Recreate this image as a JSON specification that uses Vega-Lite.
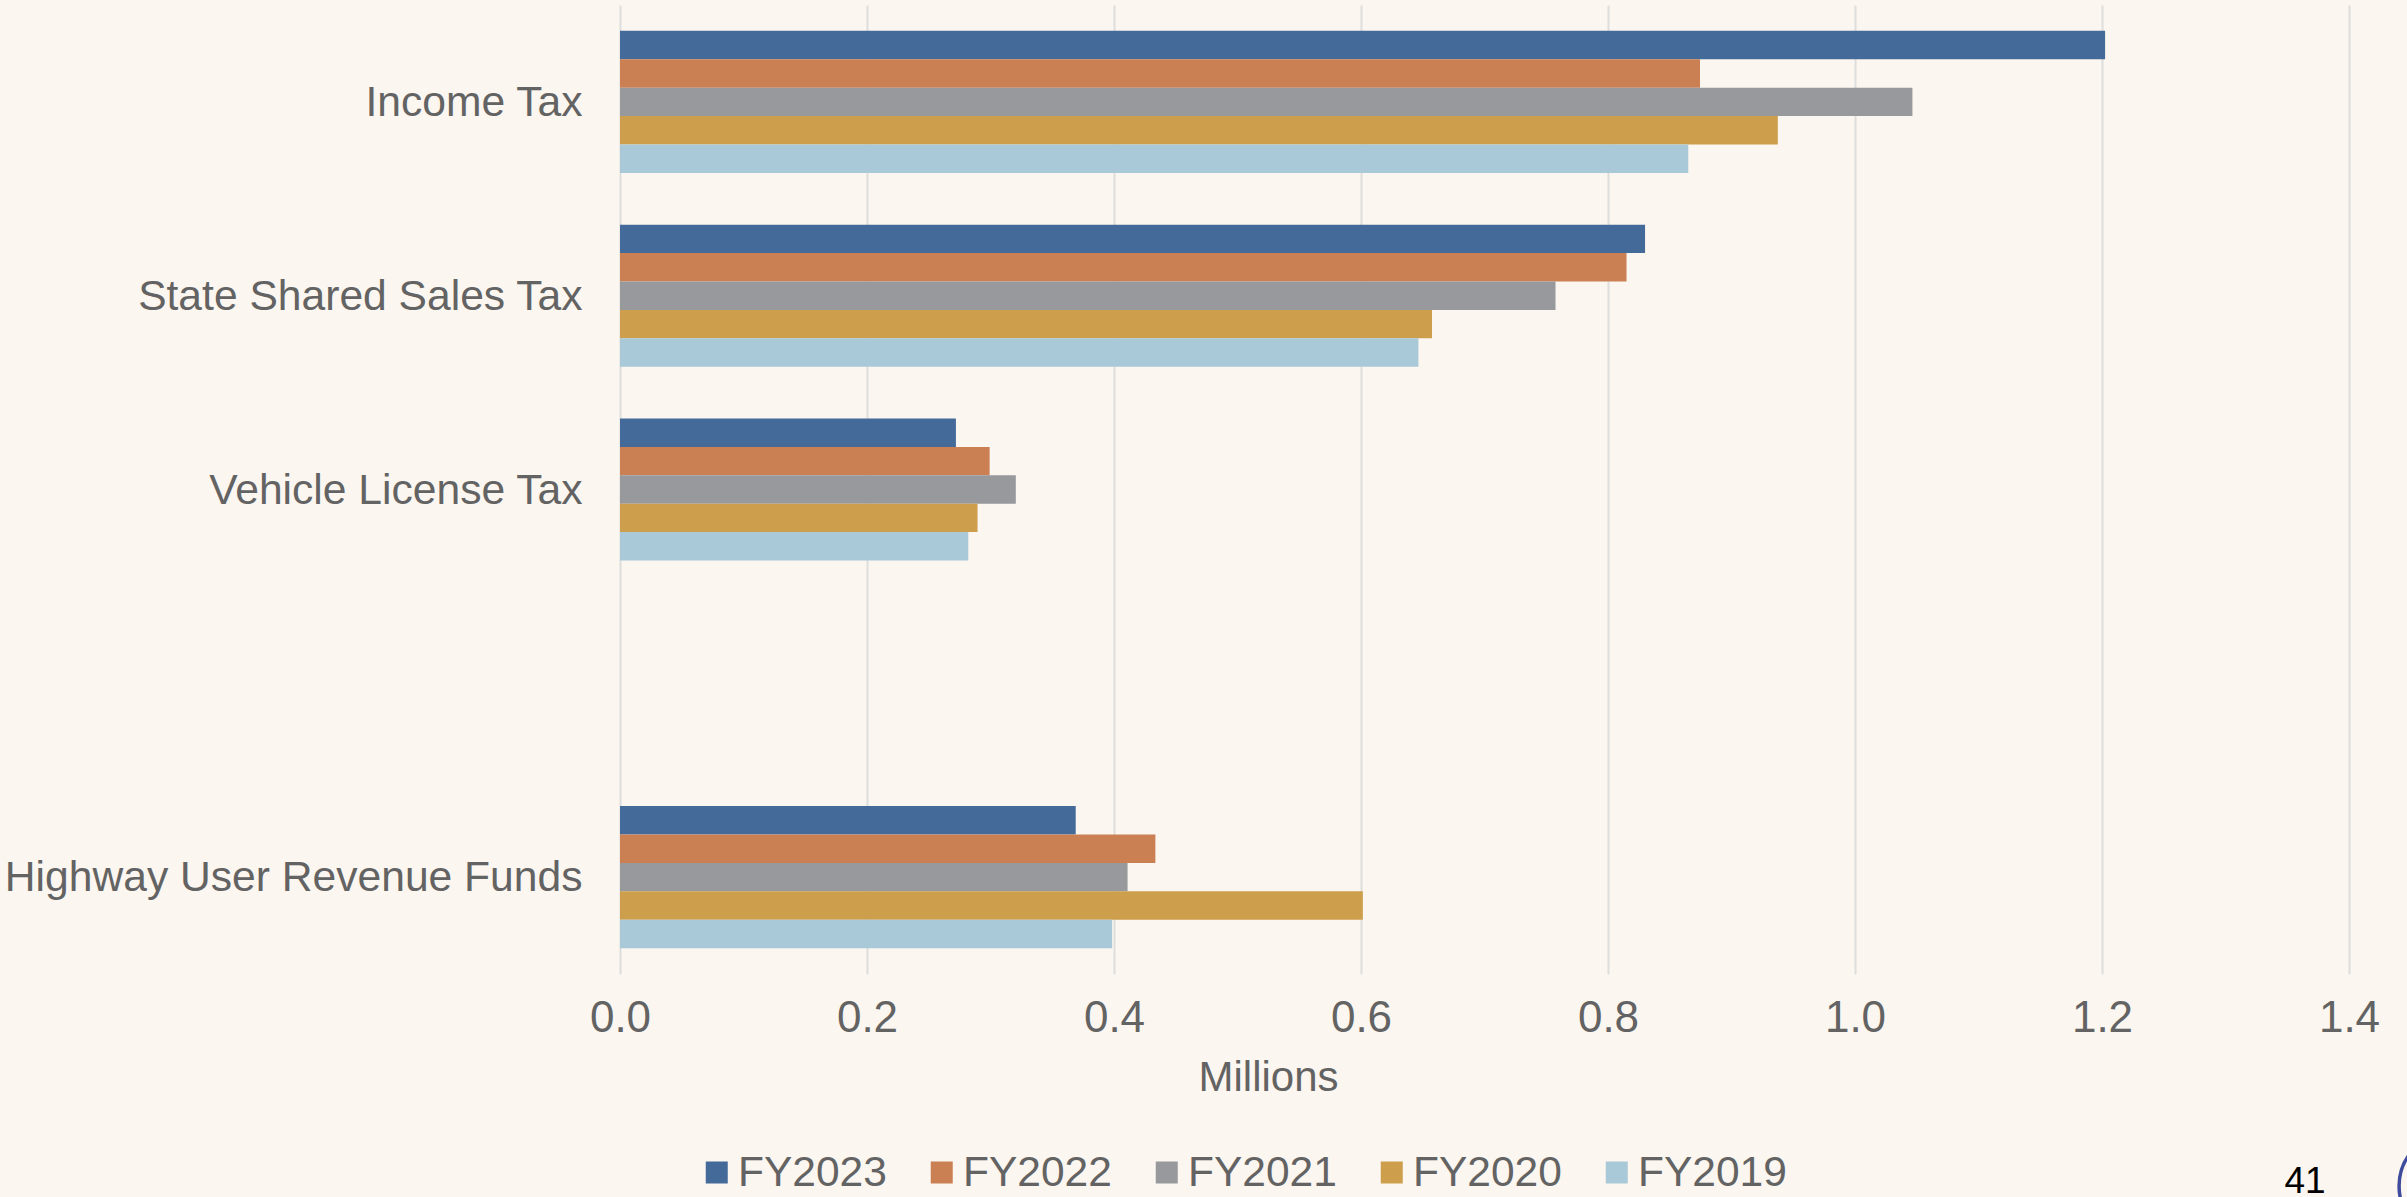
{
  "$schema": "https://vega.github.io/schema/vega-lite/v6.json",
  "width": 1729,
  "height": 969,
  "autosize": {"type": "none"},
  "padding": {"left": 620, "top": 5, "right": 58, "bottom": 223},
  "background": "#FBF6F0",
  "layer": [
    {
      "data": {
        "values": [
          {"source": "Income Tax", "year": "FY2023", "amount": 1.2025},
          {"source": "Income Tax", "year": "FY2022", "amount": 0.8745},
          {"source": "Income Tax", "year": "FY2021", "amount": 1.0465},
          {"source": "Income Tax", "year": "FY2020", "amount": 0.9375},
          {"source": "Income Tax", "year": "FY2019", "amount": 0.865},
          {"source": "State Shared Sales Tax", "year": "FY2023", "amount": 0.83},
          {"source": "State Shared Sales Tax", "year": "FY2022", "amount": 0.815},
          {"source": "State Shared Sales Tax", "year": "FY2021", "amount": 0.7575},
          {"source": "State Shared Sales Tax", "year": "FY2020", "amount": 0.6575},
          {"source": "State Shared Sales Tax", "year": "FY2019", "amount": 0.6465},
          {"source": "Vehicle License Tax", "year": "FY2023", "amount": 0.272},
          {"source": "Vehicle License Tax", "year": "FY2022", "amount": 0.2993},
          {"source": "Vehicle License Tax", "year": "FY2021", "amount": 0.3205},
          {"source": "Vehicle License Tax", "year": "FY2020", "amount": 0.2895},
          {"source": "Vehicle License Tax", "year": "FY2019", "amount": 0.282},
          {"source": "Highway User Revenue Funds", "year": "FY2023", "amount": 0.369},
          {"source": "Highway User Revenue Funds", "year": "FY2022", "amount": 0.4335},
          {"source": "Highway User Revenue Funds", "year": "FY2021", "amount": 0.411},
          {"source": "Highway User Revenue Funds", "year": "FY2020", "amount": 0.6015},
          {"source": "Highway User Revenue Funds", "year": "FY2019", "amount": 0.3985}
        ]
      },
      "mark": {"type": "bar"},
      "encoding": {
        "x": {
          "field": "amount",
          "type": "quantitative",
          "scale": {"domain": [0, 1.4], "nice": false},
          "axis": {
            "values": [0, 0.2, 0.4, 0.6, 0.8, 1.0, 1.2, 1.4],
            "format": ".1f",
            "title": "Millions",
            "titleX": 648,
            "titleY": 83,
            "titleFont": "Liberation Sans",
            "titleFontSize": 42,
            "titleFontWeight": "normal",
            "titleColor": "#636363",
            "labelFont": "Liberation Sans",
            "labelFontSize": 44,
            "labelColor": "#636363",
            "labelPadding": 22,
            "labelFlush": false,
            "grid": true,
            "gridColor": "#DEDEDC",
            "gridWidth": 2,
            "ticks": false,
            "domain": false
          }
        },
        "y": {
          "field": "source",
          "type": "nominal",
          "scale": {
            "domain": ["Income Tax", "State Shared Sales Tax", "Vehicle License Tax", " ", "Highway User Revenue Funds"],
            "paddingInner": 0.267,
            "paddingOuter": 0.1335
          },
          "axis": {
            "title": null,
            "labelFont": "Liberation Sans",
            "labelFontSize": 42.6,
            "labelColor": "#636363",
            "labelPadding": 38,
            "labelLimit": 640,
            "labelOffset": 1,
            "ticks": false,
            "domain": false
          }
        },
        "yOffset": {
          "field": "year",
          "type": "nominal",
          "scale": {"domain": ["FY2023", "FY2022", "FY2021", "FY2020", "FY2019"]}
        },
        "color": {
          "field": "year",
          "type": "nominal",
          "scale": {
            "domain": ["FY2023", "FY2022", "FY2021", "FY2020", "FY2019"],
            "range": ["#446A9A", "#CB8054", "#98999C", "#CD9F4C", "#A9C9D8"]
          },
          "legend": {
            "title": null,
            "orient": "none",
            "direction": "horizontal",
            "columns": 5,
            "legendX": 75.5,
            "legendY": 1142.5,
            "symbolType": "square",
            "symbolSize": 484,
            "symbolStrokeWidth": 0,
            "labelFont": "Liberation Sans",
            "labelFontSize": 42.5,
            "labelColor": "#636363",
            "labelOffset": 0,
            "columnPadding": 33,
            "clipHeight": 50
          }
        }
      }
    },
    {
      "data": {"values": [{"source": "Highway User Revenue Funds", "seal": 1.4836}]},
      "mark": {
        "type": "point",
        "shape": "circle",
        "size": 11310,
        "filled": false,
        "stroke": "#3F4C9E",
        "strokeWidth": 3.5,
        "opacity": 1,
        "clip": false
      },
      "encoding": {
        "x": {"field": "seal", "type": "quantitative"},
        "y": {"field": "source", "type": "nominal"},
        "yOffset": {"value": 380}
      }
    },
    {
      "data": {"values": [{"source": "Highway User Revenue Funds", "position": 1.3644, "page": "41"}]},
      "mark": {
        "type": "text",
        "font": "Liberation Sans",
        "fontSize": 37,
        "color": "#000000",
        "baseline": "middle",
        "align": "center",
        "clip": false
      },
      "encoding": {
        "x": {"field": "position", "type": "quantitative"},
        "y": {"field": "source", "type": "nominal"},
        "yOffset": {"value": 376},
        "text": {"field": "page", "type": "nominal"}
      }
    }
  ],
  "config": {"view": {"stroke": null}}
}
